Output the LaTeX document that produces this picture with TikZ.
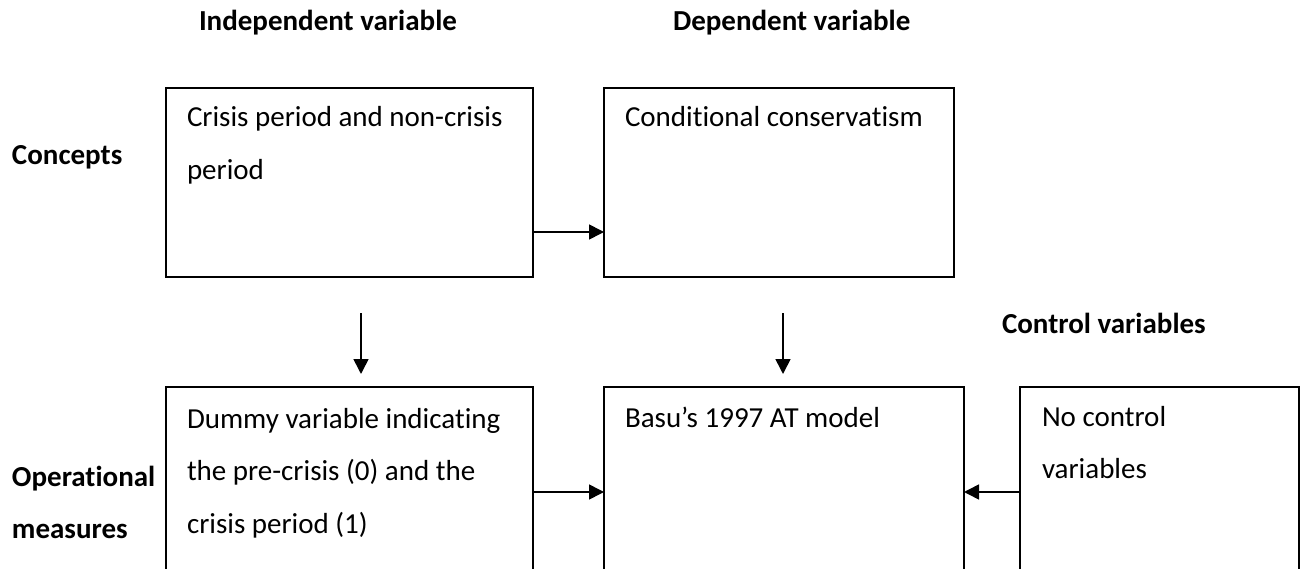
\documentclass[tikz,border=0pt]{standalone}
\usepackage{fontspec}
\setmainfont{Carlito}[RawFeature=-liga]
\usetikzlibrary{arrows.meta}
\begin{document}
\begin{tikzpicture}[x=1pt,y=-1pt,
  every node/.style={inner sep=0pt,outer sep=0pt,font=\fontsize{29}{52.5}\selectfont},
  box/.style={draw,line width=1.6pt,anchor=north west},
  txt/.style={anchor=base west},
  lbl/.style={anchor=base west,font=\fontsize{29}{52.5}\selectfont\bfseries},
  arr/.style={line width=1.6pt,-{Triangle[length=15pt,width=15pt]}}]
\useasboundingbox (0,0) rectangle (1306,569);
% boxes
\node[box,minimum width=367pt,minimum height=189pt] (b1) at (166,88) {};
\node[box,minimum width=350pt,minimum height=189pt] (b2) at (604,88) {};
\node[box,minimum width=367pt,minimum height=230pt] (b3) at (166,387) {};
\node[box,minimum width=360pt,minimum height=230pt] (b4) at (604,387) {};
\node[box,minimum width=279pt,minimum height=230pt] (b5) at (1020,387) {};
% box texts
\node[txt] (t1) at (187,127) {\vtop{\hbox{Crisis period and non-crisis}\hbox{period}}};
\node[txt] (t2) at (625,127) {Conditional conservatism};
\node[txt] (t3) at (187,428) {\vtop{\hbox{Dummy variable indicating}\hbox{the pre-crisis (0) and the}\hbox{crisis period (1)}}};
\node[txt] (t4) at (625,427) {Basu’s 1997 AT model};
\node[txt] (t5) at (1042,426) {\vtop{\hbox{No control}\hbox{variables}}};
% labels
\node[lbl] (h1) at (199,31) {Independent variable};
\node[lbl] (h2) at (673,31) {Dependent variable};
\node[lbl] (h3) at (1002,333) {Control variables};
\node[lbl] (l1) at (12,165) {Concepts};
\node[lbl] (l2) at (12,486) {\vtop{\hbox{Operational}\hbox{measures}}};
% connectors
\coordinate (y1) at (0,232);
\coordinate (y2) at (0,492);
\draw[arr] (b1.east |- y1) -- (b2.west |- y1);
\draw[arr] (b3.east |- y2) -- (b4.west |- y2);
\draw[arr] (b5.west |- y2) -- (b4.east |- y2);
\coordinate (d1s) at (361,313);
\coordinate (d1e) at (361,374);
\coordinate (d2s) at (783,313);
\coordinate (d2e) at (783,374);
\draw[arr] (d1s) -- (d1e);
\draw[arr] (d2s) -- (d2e);
\end{tikzpicture}
\end{document}
